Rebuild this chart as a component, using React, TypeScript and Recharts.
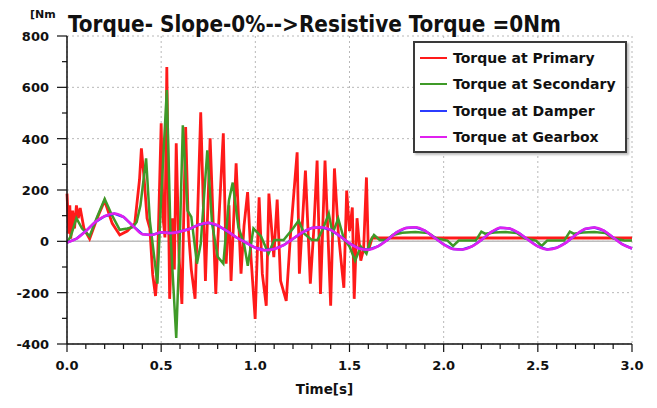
import { LineChart, Line, XAxis, YAxis, CartesianGrid, ReferenceLine, Legend } from 'recharts';

// Torque at Primary (red)
const primaryTime = [
  0, 0.01, 0.015, 0.02, 0.03, 0.04, 0.05, 0.06, 0.07, 0.09, 0.12, 0.16, 0.2, 0.24, 0.28, 0.32, 0.36,
  0.385, 0.395, 0.41, 0.425, 0.44, 0.455, 0.47, 0.48, 0.5, 0.51, 0.52, 0.53, 0.545, 0.56, 0.57, 0.58,
  0.595, 0.61, 0.63, 0.645, 0.66, 0.68, 0.71, 0.735, 0.76, 0.79, 0.8, 0.83, 0.845, 0.86, 0.871, 0.898,
  0.924, 0.94, 0.959, 0.977, 0.999, 1.02, 1.037, 1.058, 1.072, 1.098, 1.116, 1.134, 1.164, 1.187, 1.222,
  1.234, 1.266, 1.292, 1.31, 1.328, 1.346, 1.37, 1.385, 1.4, 1.42, 1.44, 1.46, 1.47, 1.485, 1.5, 1.515,
  1.525, 1.54, 1.56, 1.575, 1.59, 1.6, 1.62, 3.0,
];
const primaryTorque = [
  186, 30, 140, 10, 120, 50, 140, 90, 130, 50, 10, 90, 158, 70, 25, 40, 70,
  240, 362, 240, 90, 50, -130, -213, -110, 460, 90, 15, 679, -224, 90, -110, 382,
  -60, -244, 445, 40, -110, -224, 503, -154, 401, -205, -10, 421, -87, 140, -154, 304,
  -126, 60, 192, -62, -302, 172, -126, -251, 186, -62, 163, -154, -232, 28, 347,
  -126, 276, -165, 40, 315, -205, 315, 40, -251, 284, 40, -110, -181, 198, 40, 132,
  -224, 90, -75, -30, 249, -36, 13, 13,
];

// Torque at Secondary (green)
const secondaryTime = [
  0, 0.02, 0.05, 0.08, 0.12, 0.16, 0.2, 0.24, 0.28, 0.32, 0.35, 0.37, 0.39, 0.42, 0.44, 0.48, 0.5,
  0.53, 0.55, 0.58, 0.6, 0.615, 0.64, 0.66, 0.69, 0.71, 0.745, 0.77, 0.8, 0.83, 0.86, 0.88, 0.91,
  0.94, 0.96, 0.99, 1.03, 1.07, 1.1, 1.15, 1.2, 1.23, 1.26, 1.3, 1.33, 1.36, 1.39, 1.41, 1.44, 1.47,
  1.5, 1.53, 1.56, 1.59, 1.61, 1.63, 1.66, 1.7, 1.73, 1.78, 1.85, 1.92, 1.96, 2.02, 2.05, 2.08, 2.17,
  2.2, 2.22, 2.27, 2.33, 2.39, 2.43, 2.49, 2.52, 2.55, 2.64, 2.67, 2.69, 2.74, 2.8, 2.86, 2.9, 2.96, 3.0,
];
const secondaryTorque = [
  -5, 20, 90, 50, 20, 95, 165, 100, 45, 50, 55, 75, 140, 323, 80, -165, 171,
  589, 20, -376, 40, 452, 120, 95, -87, -10, 355, 70, -60, -87, 160, 229, 55,
  -10, -95, 50, 20, -48, 5, 5, 50, 81, 30, 5, 5, 50, 108, 30, 89, 10,
  -20, -75, -20, -48, 0, 25, 5, 5, 25, 33, 36, 32, 12, 3, -18, 3, 3,
  38, 30, 34, 36, 32, 12, 3, -18, 3, 3, 38, 30, 34, 36, 32, 12, 3, 3,
];

// Torque at Gearbox (magenta) — Damper (blue) runs underneath it
const gearboxTime = [
  0, 0.05, 0.1, 0.15, 0.2, 0.25, 0.3, 0.35, 0.4, 0.45, 0.5, 0.55, 0.6, 0.65, 0.7, 0.75, 0.8, 0.85,
  0.9, 0.95, 1.0, 1.05, 1.1, 1.15, 1.2, 1.25, 1.3, 1.35, 1.4, 1.45, 1.5, 1.55, 1.6, 1.65, 1.7, 1.75,
  1.8, 1.85, 1.9, 1.95, 2.0, 2.05, 2.1, 2.15, 2.2, 2.25, 2.3, 2.35, 2.4, 2.45, 2.5, 2.55, 2.6, 2.65,
  2.7, 2.75, 2.8, 2.85, 2.9, 2.95, 3.0,
];
const gearboxTorque = [
  -5, 10, 40, 75, 98, 108, 95, 60, 28, 25, 35, 32, 38, 48, 65, 72, 62, 40,
  15, -5, -25, -35, -30, -15, 10, 35, 52, 55, 45, 20, -8, -28, -33, -20, 5, 35,
  52, 55, 42, 15, -12, -30, -32, -20, 5, 35, 53, 50, 32, 5, -20, -32, -25, -5,
  25, 48, 54, 42, 15, -12, -28,
];
const damperTorque = gearboxTorque;

const seriesNames = ['Torque at Primary', 'Torque at Secondary', 'Torque at Damper', 'Torque at Gearbox'];

const xTicks = [
  0, 0.1, 0.2, 0.3, 0.4, 0.5, 0.6, 0.7, 0.8, 0.9, 1.0, 1.1, 1.2, 1.3, 1.4, 1.5, 1.6, 1.7, 1.8, 1.9,
  2.0, 2.1, 2.2, 2.3, 2.4, 2.5, 2.6, 2.7, 2.8, 2.9, 3.0,
];
const xMajor = [0, 0.5, 1.0, 1.5, 2.0, 2.5, 3.0];
const yTicks = [-400, -300, -200, -100, 0, 100, 200, 300, 400, 500, 600, 700, 800];
const yMajor = [-400, -200, 0, 200, 400, 600, 800];

const toPoints = (t: number[], v: number[]) => t.map((time, i) => ({ time, value: v[i] }));

const font = '"DejaVu Sans", Verdana, sans-serif';

const XTick = (props: any) => {
  const { x, y, payload } = props;
  const major = xMajor.some((m) => Math.abs(m - payload.value) < 1e-6);
  return (
    <g>
      <line x1={x} y1={y} x2={x} y2={y + (major ? 8 : 5)} stroke="#111" strokeWidth={1.2} />
      {major && (
        <text x={x} y={y + 26} textAnchor="middle" fontFamily={font} fontWeight="bold" fontSize={13} fill="#111">
          {payload.value.toFixed(1)}
        </text>
      )}
    </g>
  );
};

const YTick = (props: any) => {
  const { x, y, payload } = props;
  const major = yMajor.includes(payload.value);
  return (
    <g>
      <line x1={x} y1={y} x2={x - (major ? 10 : 5)} y2={y} stroke="#111" strokeWidth={1.2} />
      {major && (
        <text x={x - 18} y={y + 5} textAnchor="end" fontFamily={font} fontWeight="bold" fontSize={13} fill="#111">
          {payload.value}
        </text>
      )}
    </g>
  );
};

const LegendBox = ({ payload }: any) => {
  const items = [...(payload || [])].sort(
    (a: any, b: any) => seriesNames.indexOf(a.value) - seriesNames.indexOf(b.value)
  );
  return (
    <div
      style={{
        width: 214,
        height: 112,
        boxSizing: 'border-box',
        border: '2px solid #3a3a3a',
        background: '#fff',
        boxShadow: '2px 2px 2px rgba(0,0,0,0.25)',
        paddingTop: 2,
        fontFamily: font,
        fontWeight: 'bold',
        fontSize: 14,
        color: '#111',
      }}
    >
      {items.map((entry: any) => (
        <div key={entry.value} style={{ display: 'flex', alignItems: 'center', height: 26.3 }}>
          <span style={{ width: 27, marginLeft: 5, marginRight: 6, borderTop: `2.5px solid ${entry.color}` }} />
          <span style={{ whiteSpace: 'nowrap' }}>{entry.value}</span>
        </div>
      ))}
    </div>
  );
};

const App = () => {
  return (
    <div style={{ position: 'absolute', left: 0, top: 0, width: 657, height: 408, background: '#fff' }}>
      <div style={{ position: 'absolute', left: 30, top: 9, fontFamily: font, fontWeight: 'bold', fontSize: 11, lineHeight: '11px', color: '#111', zIndex: 2 }}>
        [Nm
      </div>
      <div style={{ position: 'absolute', left: 68, top: 13, fontFamily: '"DejaVu Sans Condensed", "DejaVu Sans", sans-serif', fontWeight: 'bold', fontSize: 22.3, lineHeight: '23px', color: '#111', whiteSpace: 'nowrap', zIndex: 2 }}>
        Torque- Slope-0%--&gt;Resistive Torque =0Nm
      </div>
      <LineChart width={657} height={408} margin={{ top: 36, right: 25, bottom: 0, left: 0 }}>
        <CartesianGrid
          stroke="#b8b8b8"
          strokeDasharray="2 3"
          verticalValues={xMajor}
          horizontalValues={yMajor}
        />
        <XAxis
          dataKey="time"
          type="number"
          domain={[0, 3]}
          ticks={xTicks}
          interval={0}
          height={64}
          tickSize={0}
          tickMargin={0}
          tickLine={false}
          tick={<XTick />}
          axisLine={{ stroke: '#111', strokeWidth: 1.5 }}
          allowDuplicatedCategory={false}
          label={{ value: 'Time[s]', position: 'insideBottom', offset: 14, dx: -25, style: { fontFamily: font, fontWeight: 'bold', fontSize: 13.5, fill: '#111' } }}
        />
        <YAxis
          type="number"
          domain={[-400, 800]}
          ticks={yTicks}
          interval={0}
          width={67}
          tickSize={0}
          tickMargin={0}
          tickLine={false}
          tick={<YTick />}
          axisLine={{ stroke: '#111', strokeWidth: 1.5 }}
        />
        <ReferenceLine y={0} stroke="#bdbdbd" strokeWidth={1.5} />
        <Legend
          layout="vertical"
          align="center"
          verticalAlign="middle"
          wrapperStyle={{ position: 'absolute', left: 413, top: 41, width: 214 }}
          content={<LegendBox />}
        />
        <Line
          data={toPoints(primaryTime, primaryTorque)}
          dataKey="value"
          name="Torque at Primary"
          stroke="#ff1a1a"
          strokeWidth={2.8}
          dot={false}
          isAnimationActive={false}
        />
        <Line
          data={toPoints(secondaryTime, secondaryTorque)}
          dataKey="value"
          name="Torque at Secondary"
          stroke="#3f9a28"
          strokeWidth={2.5}
          dot={false}
          isAnimationActive={false}
        />
        <Line
          data={toPoints(gearboxTime, damperTorque)}
          dataKey="value"
          name="Torque at Damper"
          stroke="#2b3cff"
          strokeWidth={2.5}
          dot={false}
          isAnimationActive={false}
        />
        <Line
          data={toPoints(gearboxTime, gearboxTorque)}
          dataKey="value"
          name="Torque at Gearbox"
          stroke="#e020ef"
          strokeWidth={2.5}
          type="monotone"
          dot={false}
          isAnimationActive={false}
        />
      </LineChart>
    </div>
  );
};

export default App;
